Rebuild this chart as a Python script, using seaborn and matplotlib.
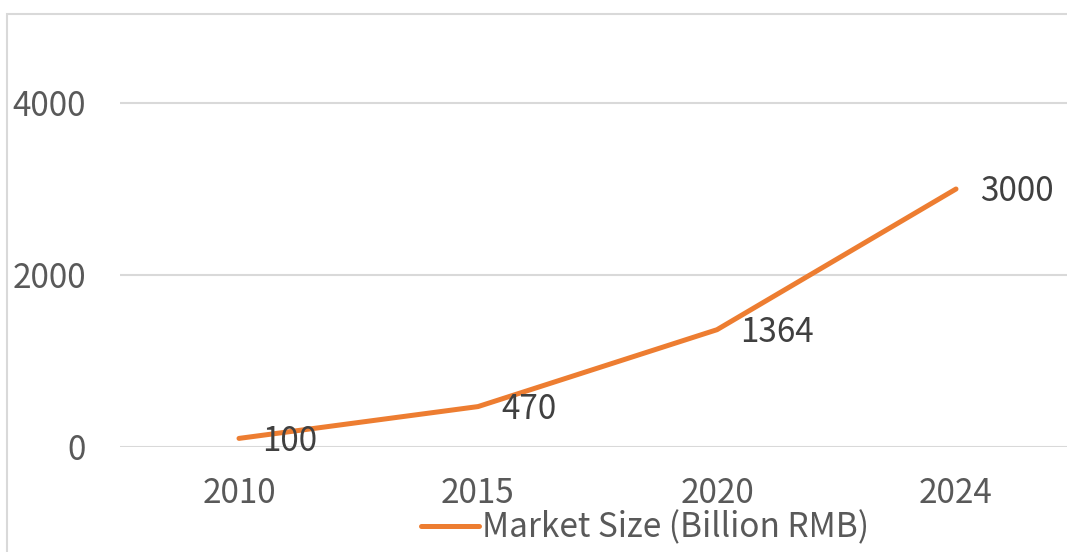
import matplotlib
matplotlib.use("Agg")
import matplotlib.pyplot as plt
from matplotlib.patches import Rectangle
import pandas as pd
import seaborn as sns

years = ["2010", "2015", "2020", "2024"]
market_size = [100, 470, 1364, 3000]
series_name = "Market Size (Billion RMB)"
y_ticks = [0, 2000, 4000]

ORANGE = "#ED7D31"
GRID = "#D9D9D9"
TEXT = "#595959"

sns.set_style("white")
plt.rcParams["font.family"] = ["Noto Sans CJK SC", "DejaVu Sans"]

df = pd.DataFrame({"year": years, "value": market_size, "series": series_name})

W, H = 1067, 552
fig = plt.figure(figsize=(W / 100, H / 100), dpi=100)
# plot area in pixels: x 119.5..1075.5, y 17..447 (from top)
ax = fig.add_axes([119.5 / W, (H - 447) / H, 956 / W, 430 / H])

sns.lineplot(data=df, x="year", y="value", hue="series", palette=[ORANGE],
             sort=False, linewidth=3.6, ax=ax, legend=True)

ax.set_xlim(-0.5, 3.5)
ax.set_ylim(0, 5000)
ax.set_yticks(y_ticks)
ax.yaxis.grid(True, color=GRID, linewidth=1.5)
ax.set_axisbelow(True)
for s in ax.spines.values():
    s.set_visible(False)
ax.tick_params(axis="both", length=0, labelsize=24, labelcolor=TEXT)
ax.tick_params(axis="y", pad=24)
ax.tick_params(axis="x", pad=21)
ax.set_xlabel("")
ax.set_ylabel("")

for i, v in enumerate(market_size):
    ax.annotate(str(v), (i, v), xytext=(17, -2), textcoords="offset points",
                ha="left", va="center", fontsize=24, color="#404040")

ax.legend(loc="center", bbox_to_anchor=(645 / W, 24 / H), bbox_transform=fig.transFigure,
          frameon=False, fontsize=24, labelcolor=TEXT, handlelength=1.75,
          handletextpad=0.1)

# chart frame
fig.patches.append(Rectangle((7 / W, -0.1), 1.2, (H - 14) / H + 0.1, transform=fig.transFigure,
                             fill=False, edgecolor=GRID, linewidth=1.5, zorder=0))

fig.savefig("out.png", dpi=100)
